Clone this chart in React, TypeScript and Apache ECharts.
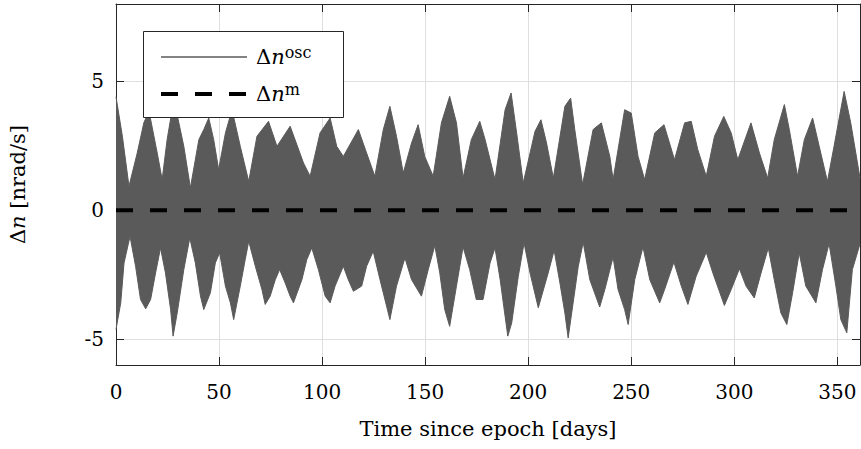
import React, { useEffect, useRef } from "react";
import * as echarts from "echarts";

// Upper envelope of the oscillating signal (days, nrad/s)
const upperDays = [0, 3.1, 6.3, 10.3, 13.5, 16, 20, 22.4, 24.8, 28.1, 32.9, 36.1, 40.2, 42.6, 45, 47.4, 49.8, 53.1, 56.3, 60.3, 64.4, 68.4, 74, 78.1, 84.5, 91, 94.2, 99, 103.9, 107.1, 110.3, 117.6, 121.6, 125.6, 129.7, 132.9, 136.1, 139.4, 143.4, 146.6, 149.8, 153.9, 157.9, 161.9, 165.2, 168.4, 172.4, 176.5, 179.1, 183.9, 188.8, 191.7, 194.4, 197.6, 203.3, 206.2, 208.9, 212.2, 217.8, 220.6, 222.6, 226.4, 231.5, 235.5, 239.6, 241.2, 246.8, 250, 253.3, 256.5, 261.4, 265.9, 271, 275.9, 279.1, 282.3, 286.4, 290.4, 294.9, 298.5, 301.7, 308.1, 312.2, 316.2, 319.4, 324.3, 326.7, 330.7, 334, 338, 341.2, 345.2, 348.4, 353.3, 356.5, 361];
const upperVals = [4.4, 2.87, 0.93, 2.22, 3.39, 3.85, 2.22, 1.19, 2.74, 4.3, 2.48, 0.87, 2.74, 3.13, 3.58, 2.74, 1.58, 3.0, 3.9, 2.48, 1.12, 2.87, 3.45, 2.48, 3.26, 1.83, 1.32, 3.0, 3.58, 2.48, 2.09, 3.13, 2.22, 1.32, 3.13, 4.03, 2.87, 1.45, 2.61, 3.32, 2.09, 1.32, 3.39, 4.42, 3.39, 1.25, 2.74, 3.45, 2.74, 1.19, 3.9, 4.55, 3.0, 1.06, 3.06, 3.51, 2.61, 1.25, 4.03, 4.35, 3.13, 1.0, 3.13, 3.39, 2.09, 1.19, 3.9, 3.77, 2.09, 1.19, 3.0, 3.32, 1.96, 3.39, 3.45, 2.35, 1.32, 2.87, 3.64, 3.0, 1.96, 3.39, 2.22, 1.25, 2.74, 4.1, 3.13, 1.32, 2.74, 3.58, 2.48, 1.12, 2.48, 4.61, 3.39, 1.25];

// Lower envelope of the oscillating signal (days, nrad/s)
const lowerDays = [0, 2.3, 3.9, 6.8, 9.5, 11.9, 14.4, 16.8, 19.2, 21.6, 24, 26.5, 27.7, 29.7, 32.9, 35.8, 38.5, 41, 42.6, 45.8, 48.2, 50.3, 53.1, 55.5, 57.1, 60.3, 62.7, 64.4, 67.6, 70.8, 72.4, 74.8, 77.3, 79.4, 82.1, 84.5, 86.1, 90.2, 92.6, 95, 98.2, 101.5, 103.9, 106.3, 110.3, 112.7, 115.2, 119.2, 121.6, 124.8, 128.1, 131.3, 132.9, 136.1, 140.2, 143.4, 148.2, 151.5, 154.7, 157.1, 159.5, 161.9, 165.2, 168.4, 171.6, 174.8, 178.1, 181.5, 183.9, 186.4, 188.8, 190.1, 192, 195.2, 198, 200.9, 204.9, 209.7, 212.6, 215.4, 217.8, 219.4, 221.8, 224.3, 226.7, 229.9, 234.7, 237.2, 241.2, 243.6, 246.8, 248.5, 251.7, 255.7, 259, 263.8, 266.2, 270.7, 274.3, 277.5, 281.5, 286.4, 289.6, 295.2, 298.5, 302.5, 305.7, 309.7, 313, 316.5, 319.4, 322.6, 325.5, 328.3, 331.5, 334.7, 339.6, 342.8, 346, 349.3, 351.7, 354.6, 357.3, 361];
const lowerVals = [-4.62, -3.59, -2.04, -1.01, -2.17, -3.46, -3.82, -3.46, -2.43, -1.46, -2.43, -3.85, -4.88, -3.98, -2.3, -1.07, -2.04, -3.33, -3.85, -3.2, -2.04, -1.65, -2.94, -3.59, -4.24, -2.94, -1.91, -1.2, -2.17, -3.07, -3.65, -3.33, -2.69, -2.3, -2.82, -3.33, -3.59, -2.69, -1.91, -1.46, -2.3, -3.33, -3.59, -2.94, -2.17, -2.69, -3.14, -2.94, -2.17, -1.59, -2.69, -3.72, -4.24, -2.94, -1.85, -2.69, -3.33, -2.3, -1.37, -2.43, -3.85, -4.5, -2.94, -1.42, -2.3, -3.46, -3.46, -2.04, -1.46, -2.69, -4.11, -4.88, -4.37, -2.56, -1.27, -2.43, -3.78, -2.43, -1.55, -2.82, -3.98, -4.95, -3.59, -2.17, -1.24, -2.69, -3.75, -3.07, -1.81, -3.07, -3.85, -4.43, -2.69, -1.42, -2.69, -3.59, -3.07, -2.01, -2.94, -3.65, -2.56, -1.63, -2.43, -3.69, -3.07, -2.27, -2.94, -3.4, -2.43, -1.46, -2.69, -3.98, -4.43, -3.2, -1.65, -2.94, -3.59, -2.3, -1.29, -2.94, -4.24, -4.75, -2.3, -1.3];

// Mean value line
const meanDays = [0, 361];
const meanVals = [0, 0];

const xTicks = [0, 50, 100, 150, 200, 250, 300, 350];
const yTicks = [-5, 0, 5];
const legendNames = ["osc", "m"];

const FONT = "DejaVu Serif";
const GRAY = "#5a5a5a";
const AXIS = "#262626";
const GRID = "#dfdfdf";

export default function App() {
  const ref = useRef<HTMLDivElement>(null);
  useEffect(() => {
    if (!ref.current) return;
    const chart = echarts.init(ref.current, undefined, { renderer: "svg" });
    const upper = upperDays.map((d, i) => [d, upperVals[i]]);
    const lower = lowerDays.map((d, i) => [d, lowerVals[i]]);
    const mean = meanDays.map((d, i) => [d, meanVals[i]]);
    const richBase = {
      d: { fontFamily: FONT, fontSize: 21, color: "#000" },
      n: { fontFamily: FONT, fontSize: 21, fontStyle: "italic", color: "#000" },
    };
    const legendRich = {
      d: { fontFamily: FONT, fontSize: 21, lineHeight: 26, color: "#000" },
      n: { fontFamily: FONT, fontSize: 21, lineHeight: 26, fontStyle: "italic", color: "#000" },
      s: { fontFamily: FONT, fontSize: 16, lineHeight: 14, verticalAlign: "top", color: "#000" },
    };
    const axisCommon = (show: boolean) => ({
      axisLine: { show: true, onZero: false, lineStyle: { color: AXIS, width: 1 } },
      splitLine: { show, lineStyle: { color: GRID, width: 1 } },
    });
    chart.setOption({
      animation: false,
      backgroundColor: "#fff",
      grid: { left: 116, right: 1, top: 4, bottom: 84, containLabel: false, outerBoundsMode: "none" },
      xAxis: [
        {
          type: "value",
          min: 0,
          max: 361,
          position: "bottom",
          name: "Time since epoch [days]",
          nameLocation: "middle",
          nameGap: 53,
          nameTextStyle: { fontFamily: FONT, fontSize: 21, color: "#000" },
          ...axisCommon(true),
          axisTick: { show: true, inside: true, length: 8, lineStyle: { color: AXIS }, customValues: xTicks },
          axisLabel: { fontFamily: FONT, fontSize: 20, color: "#000", margin: 17, customValues: xTicks },
        },
        {
          type: "value",
          min: 0,
          max: 361,
          position: "top",
          ...axisCommon(false),
          axisTick: { show: true, inside: true, length: 8, lineStyle: { color: AXIS }, customValues: xTicks },
          axisLabel: { show: false },
        },
      ],
      yAxis: [
        {
          type: "value",
          min: -6,
          max: 8,
          position: "left",
          name: "{d|Δ}{n|n} [nrad/s]",
          nameLocation: "middle",
          nameRotate: 90,
          nameGap: 88,
          nameTextStyle: { fontFamily: FONT, fontSize: 21, color: "#000", rich: richBase },
          ...axisCommon(true),
          axisTick: { show: true, inside: true, length: 8, lineStyle: { color: AXIS }, customValues: yTicks },
          axisLabel: { fontFamily: FONT, fontSize: 20, color: "#000", margin: 12, customValues: yTicks },
        },
        {
          type: "value",
          min: -6,
          max: 8,
          position: "right",
          ...axisCommon(false),
          axisTick: { show: true, inside: true, length: 8, lineStyle: { color: AXIS }, customValues: yTicks },
          axisLabel: { show: false },
        },
      ],
      graphic: [
        {
          type: "group",
          z: 10,
          children: [
            {
              type: "rect",
              z: 10,
              shape: { x: 143.5, y: 31.5, width: 200, height: 86 },
              style: { fill: "#fff", stroke: AXIS, lineWidth: 1 },
            },
            {
              type: "line",
              z: 11,
              shape: { x1: 161, y1: 57, x2: 247, y2: 57 },
              style: { stroke: GRAY, lineWidth: 1.6 },
            },
            {
              type: "line",
              z: 11,
              shape: { x1: 161, y1: 94, x2: 247, y2: 94 },
              style: { stroke: "#000", lineWidth: 4, lineDash: [17, 17], lineCap: "butt" },
            },
            {
              type: "text",
              z: 11,
              x: 256,
              y: 57,
              style: { text: `{d|Δ}{n|n}{s|${legendNames[0]}}`, rich: legendRich, verticalAlign: "middle", align: "left" },
            },
            {
              type: "text",
              z: 11,
              x: 256,
              y: 94,
              style: { text: `{d|Δ}{n|n}{s|${legendNames[1]}}`, rich: legendRich, verticalAlign: "middle", align: "left" },
            },
          ],
        },
      ],
      series: [
        {
          name: "osc",
          type: "line",
          data: upper,
          showSymbol: false,
          symbol: "none",
          lineStyle: { color: GRAY, width: 1 },
          itemStyle: { color: GRAY },
          areaStyle: { color: GRAY, opacity: 1, origin: 0 },
          z: 2,
        },
        {
          name: "osc",
          type: "line",
          data: lower,
          showSymbol: false,
          symbol: "none",
          lineStyle: { color: GRAY, width: 1 },
          itemStyle: { color: GRAY },
          areaStyle: { color: GRAY, opacity: 1, origin: 0.5 },
          z: 2,
        },
        {
          name: "m",
          type: "line",
          data: mean,
          showSymbol: false,
          symbol: "none",
          lineStyle: { color: "#000", width: 4, type: [17, 17], cap: "butt" },
          itemStyle: { color: "#000" },
          z: 3,
        },
      ],
    });
    return () => chart.dispose();
  }, []);
  return <div ref={ref} style={{ position: "fixed", left: 0, top: 0, width: 861, height: 449 }} />;
}
